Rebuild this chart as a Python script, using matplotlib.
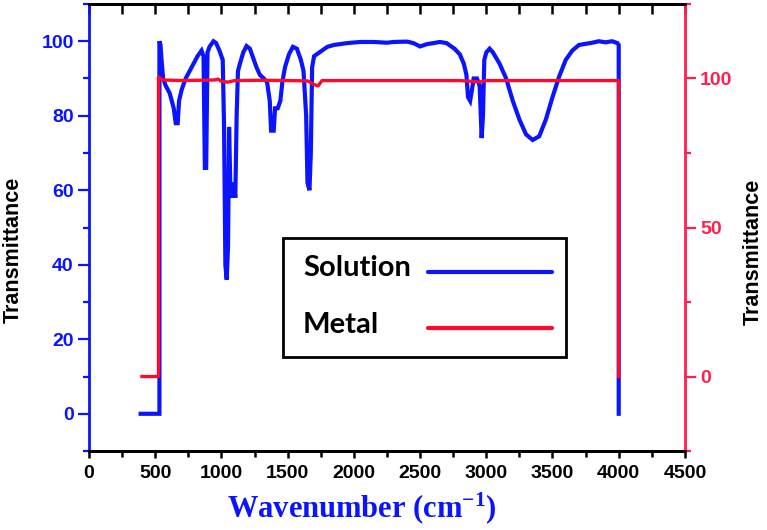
import matplotlib
matplotlib.use("Agg")
import matplotlib.pyplot as plt
from matplotlib.ticker import MultipleLocator
from matplotlib.patches import Rectangle
from matplotlib.lines import Line2D

plt.rcParams['font.family'] = ['Liberation Sans', 'DejaVu Sans']
plt.rcParams['mathtext.fontset'] = 'custom'
plt.rcParams['mathtext.rm'] = 'Liberation Serif:bold'
plt.rcParams['mathtext.bf'] = 'Liberation Serif:bold'
plt.rcParams['mathtext.default'] = 'bf'

# FTIR spectrum of the solution (left axis)
solution_x = [390, 532, 532, 540, 548, 560, 580, 610, 640, 655, 670, 680, 700, 730,
              760, 790, 820, 850, 865, 875, 885, 895, 910, 940, 960, 985, 1010,
              1020, 1030, 1040, 1050, 1058, 1068, 1080, 1095, 1105, 1115, 1125,
              1140, 1165, 1190, 1215, 1240, 1265, 1290, 1320, 1345, 1365, 1375,
              1395, 1405, 1425, 1445, 1460, 1480, 1510, 1540, 1570, 1600, 1620,
              1640, 1650, 1665, 1675, 1685, 1700, 1740, 1800, 1850, 1950, 2050,
              2150, 2250, 2300, 2400, 2450, 2500, 2550, 2650, 2700, 2760, 2800,
              2830, 2850, 2862, 2878, 2892, 2905, 2930, 2950, 2965, 2975, 2985,
              3000, 3025, 3050, 3100, 3150, 3200, 3250, 3300, 3350, 3400, 3450,
              3500, 3550, 3600, 3650, 3700, 3800, 3850, 3900, 3950, 3990, 4000, 4000]
solution_t = [0, 0, 100, 99, 95, 90, 88, 86, 82, 78, 78, 84, 87, 90,
              92, 94, 96, 97.5, 96, 66, 66, 97, 98.5, 100, 99.5, 97.5, 95,
              77, 40, 36, 45, 77, 60, 58, 62, 58, 80, 92,
              94, 97, 98.7, 98, 95.5, 93, 91, 90, 89, 84, 76,
              76, 82, 82, 84, 89, 93, 96.5, 98.5, 98, 95, 92,
              80, 62, 60, 70, 93, 96, 97, 98.5, 99, 99.5, 99.8,
              99.8, 99.6, 99.8, 99.9, 99.5, 98.6, 99.2, 99.8, 99.5, 98, 96.5,
              94, 91, 85, 84, 87, 90, 90, 88, 74, 80, 95,
              97, 98, 97, 94, 90, 84, 79, 75, 73.5, 74.5, 79,
              85, 90.5, 95, 97.5, 99, 99.6, 100, 99.7, 100, 99.5, 99, 0]

# metal spectrum (right axis)
metal_x = [400, 525, 525, 560, 700, 950, 975, 1000, 1050, 1100, 1300, 1500,
           1650, 1700, 1730, 1760, 2800, 2900, 2950, 3000, 4000, 4000]
metal_t = [0, 0, 100.5, 99.5, 99.3, 99.5, 99.8, 99.0, 98.8, 99.3, 99.4, 99.3,
           99.2, 98.0, 97.5, 99.3, 99.3, 99.0, 98.8, 99.3, 99.3, 0]

xticks = [0, 500, 1000, 1500, 2000, 2500, 3000, 3500, 4000, 4500]
left_ticks = [0, 20, 40, 60, 80, 100]
right_ticks = [0, 50, 100]

BLUE = '#0a14ff'
RED = '#ff0a2a'
RED_AX = '#ff1e4e'

fig = plt.figure(figsize=(7.67, 5.30), dpi=100)
ax = fig.add_axes([0.116, 0.149, 0.777, 0.8435])
ax2 = ax.twinx()

ax.plot(solution_x, solution_t, color=BLUE, lw=3.0, solid_joinstyle='miter')
ax2.plot(metal_x, metal_t, color=RED, lw=2.4)

ax.set_xlim(0, 4500)
ax.set_ylim(-10, 110)
ax2.set_ylim(-25, 125)
ax.set_xticks(xticks)
ax.set_yticks(left_ticks)
ax2.set_yticks(right_ticks)
ax.xaxis.set_minor_locator(MultipleLocator(250))
ax.yaxis.set_minor_locator(MultipleLocator(10))
ax2.yaxis.set_minor_locator(MultipleLocator(25))

for a in (ax, ax2):
    for s in a.spines.values():
        s.set_linewidth(2)
ax.spines['left'].set_color(BLUE)
ax.spines['right'].set_visible(False)
ax2.spines['left'].set_visible(False)
ax2.spines['right'].set_color(RED_AX)

ax.tick_params(axis='x', which='major', direction='out', length=5, width=1.8,
               labelsize=14, pad=5, colors='black')
ax.tick_params(axis='x', which='minor', direction='out', length=4, width=1.8)
ax.tick_params(axis='y', which='major', direction='out', length=8, width=1.6,
               labelsize=14, pad=3, color=BLUE, labelcolor=BLUE)
ax.tick_params(axis='y', which='minor', direction='out', length=4, width=1.6, color=BLUE)
ax2.tick_params(axis='y', which='major', direction='out', length=8, width=1.6,
                labelsize=14, pad=3, color=RED_AX, labelcolor=RED_AX)
ax2.tick_params(axis='y', which='minor', direction='out', length=4, width=1.6, color=RED_AX)
for lbl in ax.get_xticklabels() + ax.get_yticklabels() + ax2.get_yticklabels():
    lbl.set_fontweight('bold')

# top ticks point inwards
top = ax.secondary_xaxis('top')
top.set_xticks(xticks)
top.xaxis.set_minor_locator(MultipleLocator(250))
top.tick_params(axis='x', which='both', direction='in', length=7, width=1.8, labeltop=False)
top.spines['top'].set_linewidth(2)

fig.text(13 / 767, 1 - 250 / 530, 'Transmittance', rotation=90, ha='center', va='center',
         fontsize=15.5, fontweight='bold')
fig.text(753 / 767, 1 - 252 / 530, 'Transmittance', rotation=90, ha='center', va='center',
         fontsize=15.5, fontweight='bold')
fig.text(362 / 767, 1 - 508 / 530, r'Wavenumber (cm$^{-1}$)', ha='center', va='center',
         fontsize=22, color=BLUE, family='Liberation Serif', fontweight='bold')

# legend box drawn by hand: labels on the left, lines on the right
ax2.add_patch(Rectangle((0.3255, 0.2103), 0.4748, 0.266, transform=ax2.transAxes,
                        fill=True, facecolor='white', edgecolor='black', lw=2, zorder=5))
ax2.text(0.359, 0.409, 'Solution', transform=ax2.transAxes, ha='left', va='center',
         fontsize=21, fontweight='bold', family='Lato', zorder=6)
ax2.text(0.359, 0.282, 'Metal', transform=ax2.transAxes, ha='left', va='center',
         fontsize=21, fontweight='bold', family='Lato', zorder=6)
ax2.add_line(Line2D([0.569, 0.777], [0.400, 0.400], transform=ax2.transAxes,
                    color=BLUE, lw=3, solid_capstyle='round', zorder=6))
ax2.add_line(Line2D([0.569, 0.777], [0.275, 0.275], transform=ax2.transAxes,
                    color=RED, lw=3, solid_capstyle='round', zorder=6))

fig.savefig('out.png', dpi=100)
